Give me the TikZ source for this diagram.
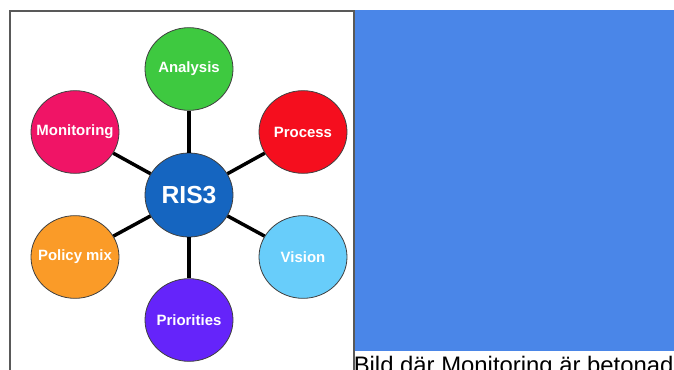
\documentclass[tikz,border=0pt]{standalone}
\usepackage{fontspec}
\setmainfont{Liberation Sans}
\usetikzlibrary{shapes.geometric}
\definecolor{risblue}{RGB}{21,101,192}
\definecolor{anagreen}{RGB}{62,201,64}
\definecolor{monpink}{RGB}{240,20,102}
\definecolor{procred}{RGB}{245,14,30}
\definecolor{polorange}{RGB}{250,155,40}
\definecolor{vislight}{RGB}{104,205,250}
\definecolor{priviolet}{RGB}{101,36,250}
\definecolor{panelblue}{RGB}{74,134,232}
\newcommand{\ctr}[1]{\makebox[0pt]{#1}}

\begin{document}
\begin{tikzpicture}[x=0.75pt,y=-0.75pt,
  topic/.style={ellipse,draw=black!75,line width=0.6pt,minimum width=66pt,
    minimum height=62pt,inner sep=0pt,text=white,
    font=\bfseries\fontsize{11.2}{13}\selectfont},
  spoke/.style={line width=2.6pt}]
\useasboundingbox (0,0) rectangle (674,370);
\fill[white] (0,0) rectangle (674,370);
\begin{scope}
\clip (0,0) rectangle (674,370);
% frame and panel
\draw[black!65,line width=0.8pt] (10,380) -- (10,11) -- (354,11) -- (354,380);
\fill[panelblue] (355,10) rectangle (674,351);
\node[anchor=base west,inner sep=0pt,font=\fontsize{17.9}{20}\selectfont]
  (caption) at (353.5,373) {Bild där Monitoring är betonad};
\end{scope}
% hub
\node[topic,fill=risblue,minimum height=63pt,
  font=\bfseries\fontsize{18.5}{21}\selectfont] (ris) at (189,195) {\ctr{RIS3}};
% topics round the hub
\node[topic,fill=anagreen] (analysis) at (189,69) {\ctr{Analysis}};
\node[topic,fill=procred] (process) at (303,132) {\ctr{Process}};
\node[topic,fill=vislight] (vision) at (303,257) {\ctr{Vision}};
\node[topic,fill=priviolet] (priorities) at (189,320) {\ctr{Priorities}};
\node[topic,fill=polorange] (policy) at (75,257) {\ctr{Policy mix}};
\node[topic,fill=monpink] (monitoring) at (75,132) {\ctr{Monitoring}};
% spokes
\foreach \t in {analysis,process,vision,priorities,policy,monitoring}
  \draw[spoke] (ris) -- (\t);
\end{tikzpicture}
\end{document}
